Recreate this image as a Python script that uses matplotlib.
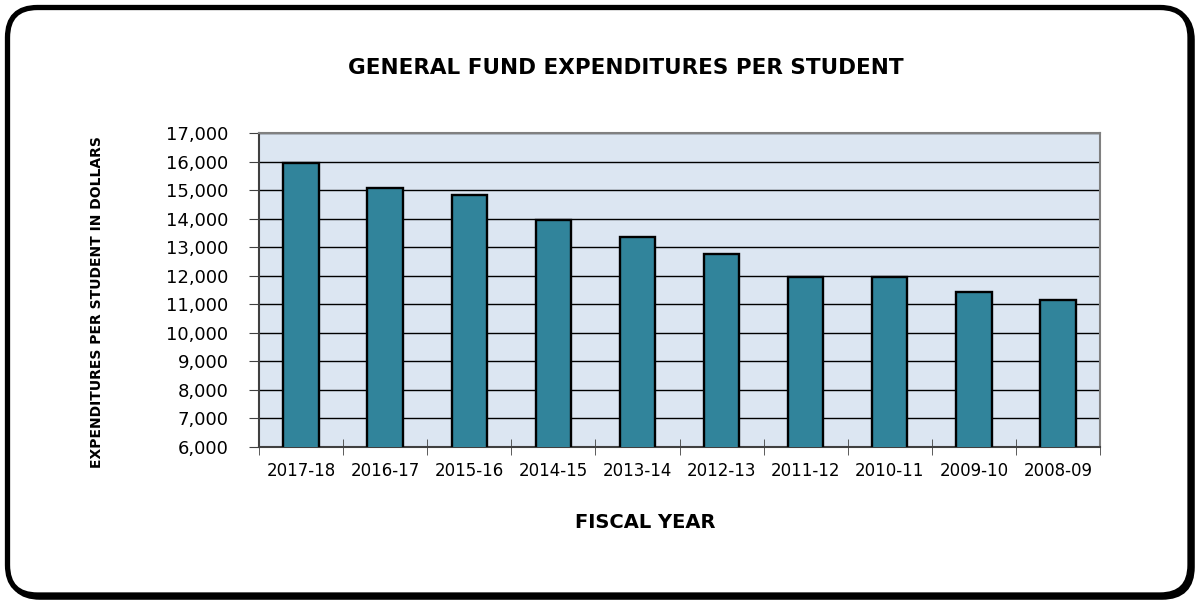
import matplotlib.pyplot as plt
from matplotlib.patches import FancyBboxPatch
import numpy as np

years = ['2017-18', '2016-17', '2015-16', '2014-15', '2013-14',
         '2012-13', '2011-12', '2010-11', '2009-10', '2008-09']
spending = [15940, 15090, 14835, 13955, 13365, 12770, 11940, 11940, 11430, 11165]

plt.rcParams['font.family'] = ['DejaVu Sans']

W, H = 1195, 602
fig = plt.figure(figsize=(W / 100, H / 100), dpi=100)
fig.patch.set_facecolor('white')


def px_box(x0, y0, x1, y1, **kw):
    # rounded box given in pixel coordinates measured from the top left
    return FancyBboxPatch((x0 / W, 1 - y1 / H), (x1 - x0) / W, (y1 - y0) / H,
                          boxstyle=f'round,pad=0,rounding_size={30 / W}',
                          transform=fig.transFigure, mutation_aspect=W / H, **kw)


# rounded frame with a heavier shadow edge at the bottom right
shadow = px_box(10, 10, 1192, 597, facecolor='none', edgecolor='black',
                linewidth=4, zorder=-2)
frame = px_box(7.5, 7.5, 1190, 595, facecolor='white', edgecolor='black',
               linewidth=3.8, zorder=-1)
fig.patches.extend([shadow, frame])

ax = fig.add_axes([259 / W, 1 - 447 / H, (1100 - 259) / W, (447 - 133) / H])
ax.set_zorder(2)
ax.set_facecolor('#DCE6F2')

x = np.arange(len(years))
ax.bar(x, spending, width=0.42, color='#31849B', edgecolor='black', linewidth=1.7, zorder=3)

ax.set_ylim(6000, 17000)
ax.set_yticks(range(6000, 17001, 1000))
ax.set_yticklabels([f'{v:,}' for v in range(6000, 17001, 1000)], fontsize=13)
ax.yaxis.grid(True, color='black', linewidth=1, zorder=1)
ax.set_axisbelow(True)

ax.set_xlim(-0.5, len(years) - 0.5)
ax.set_xticks(x)
ax.set_xticklabels(years, fontsize=12)
ax.tick_params(axis='x', length=0, pad=11)
ax.set_xticks(np.arange(-0.5, len(years)), minor=True)
ax.tick_params(axis='x', which='minor', direction='inout', length=11, color='#404040')
ax.tick_params(axis='y', direction='out', length=7, color='#404040', pad=15)

for side in ['top', 'right']:
    ax.spines[side].set_color('#808080')
    ax.spines[side].set_linewidth(1.5)
for side in ['left', 'bottom']:
    ax.spines[side].set_color('#404040')
    ax.spines[side].set_linewidth(1.5)

fig.text(0.524, 1 - 68 / H, 'GENERAL FUND EXPENDITURES PER STUDENT',
         ha='center', va='center', fontsize=15.5, fontweight='bold')
fig.text(0.54, 1 - 523 / H, 'FISCAL YEAR',
         ha='center', va='center', fontsize=14, fontweight='bold')
fig.text(97 / W, 1 - 302 / H, 'EXPENDITURES PER STUDENT IN DOLLARS',
         ha='center', va='center', rotation=90, fontsize=10, fontweight='bold')

fig.savefig('out.png', dpi=100)
